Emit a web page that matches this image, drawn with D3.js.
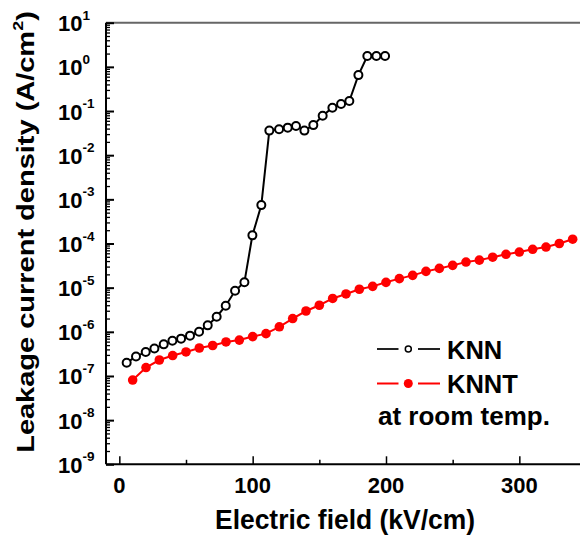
<!DOCTYPE html>
<html>
<head>
<meta charset="utf-8">
<script src="https://cdn.jsdelivr.net/npm/d3@7"></script>
<style>
  html, body { margin: 0; padding: 0; background: #fff; }
  text { font-family: Arial, "Liberation Sans", Helvetica, sans-serif; font-weight: bold; fill: #000; }
</style>
</head>
<body>
<svg id="chart" width="580" height="536"></svg>
<script>
// ---------- data ----------
const knnField = [5.5, 12.5, 19.8, 26.3, 33.3, 39.8, 46.3, 53, 59.8, 66.3, 73, 79.8, 86.8, 93.8, 99.8,
  106.5, 112.5, 119.8, 126.3, 132.5, 138.8, 145.5, 152.5, 159.8, 166.3, 172.5, 179.3, 186, 192.8, 199.3];
const knnCurrent = [2.0e-7, 2.75e-7, 3.5e-7, 4.2e-7, 5.2e-7, 6.3e-7, 7.0e-7, 8.2e-7, 1.0e-6, 1.4e-6,
  2.2e-6, 3.9e-6, 8.5e-6, 1.32e-5, 1.53e-4, 7.4e-4, 0.036, 0.0385, 0.042, 0.046,
  0.036, 0.048, 0.078, 0.119, 0.144, 0.168, 0.65, 1.76, 1.76, 1.76];
const knntField = [10, 20, 30, 40, 50, 60, 70, 80, 90, 100, 110, 120, 130, 140, 150, 160, 170,
  180, 190, 200, 210, 220, 230, 240, 250, 260, 270, 280, 290, 300, 310, 320, 330, 340];
const knntCurrent = [8.1e-8, 1.55e-7, 2.3e-7, 2.9e-7, 3.5e-7, 4.3e-7, 4.9e-7, 5.9e-7, 6.5e-7, 7.8e-7,
  9.1e-7, 1.3e-6, 2.0e-6, 2.96e-6, 4.0e-6, 5.7e-6, 7.2e-6, 9.2e-6, 1.07e-5, 1.32e-5,
  1.6e-5, 1.9e-5, 2.34e-5, 2.73e-5, 3.2e-5, 3.8e-5, 4.2e-5, 4.9e-5, 5.7e-5, 6.4e-5,
  7.4e-5, 8.3e-5, 1.0e-4, 1.25e-4];
const xTickValues = [0, 100, 200, 300];
const xMinorValues = [50, 150, 250];
const yExponents = [1, 0, -1, -2, -3, -4, -5, -6, -7, -8, -9];
const seriesNames = ["KNN", "KNNT"];
const noteText = "at room temp.";
const xTitle = "Electric field (kV/cm)";
const yTitle = "Leakage current density (A/cm";

// ---------- layout ----------
const svg = d3.select("#chart");
const plotLeft = 106, plotTop = 22.7, plotBottom = 464.3, plotRight = 586;
const x = d3.scaleLinear().domain([-10, 350]).range([plotLeft, plotRight]);
const y = d3.scaleLog().domain([1e-9, 10]).range([plotBottom, plotTop]);

// frame line on top
svg.append("line").attr("x1", plotLeft).attr("x2", plotRight).attr("y1", plotTop).attr("y2", plotTop)
  .attr("stroke", "#666").attr("stroke-width", 2);

// y axis (ticks inward)
const yMinor = [];
for (let e = -9; e < 1; e++) for (let m = 2; m <= 9; m++) yMinor.push(m * Math.pow(10, e));
const yAxisMinor = d3.axisRight(y).tickValues(yMinor).tickSize(4).tickFormat("");
const gyMin = svg.append("g").attr("transform", `translate(${plotLeft},0)`).call(yAxisMinor);
gyMin.select(".domain").remove();
gyMin.selectAll(".tick line").attr("stroke", "#000").attr("stroke-width", 1.3);

const yAxisMajor = d3.axisRight(y).tickValues(yExponents.map(e => Math.pow(10, e))).tickSize(8).tickFormat("");
const gy = svg.append("g").attr("transform", `translate(${plotLeft},0)`).call(yAxisMajor);
gy.select(".domain").attr("stroke", "#000").attr("stroke-width", 2).attr("d", `M0,${plotTop}V${plotBottom}`);
gy.selectAll(".tick line").attr("stroke", "#000").attr("stroke-width", 2);

// y tick labels with superscripts
const yl = svg.append("g");
yExponents.forEach(e => {
  const t = yl.append("text").attr("x", 58).attr("y", y(Math.pow(10, e)) + 8.5)
    .attr("font-size", 22);
  t.append("tspan").text("10");
  t.append("tspan").attr("font-size", 13.5).attr("dy", -11.5).text(String(e));
});

// x axis (ticks inward)
const xAxisMinor = d3.axisTop(x).tickValues(xMinorValues).tickSize(4.5).tickFormat("");
const gxMin = svg.append("g").attr("transform", `translate(0,${plotBottom})`).call(xAxisMinor);
gxMin.select(".domain").remove();
gxMin.selectAll(".tick line").attr("stroke", "#000").attr("stroke-width", 1.5);

const xAxis = d3.axisTop(x).tickValues(xTickValues).tickSize(8).tickFormat("");
const gx = svg.append("g").attr("transform", `translate(0,${plotBottom})`).call(xAxis);
gx.select(".domain").attr("stroke", "#000").attr("stroke-width", 2).attr("d", `M${plotLeft},0H${plotRight}`);
gx.selectAll(".tick line").attr("stroke", "#000").attr("stroke-width", 1.5);

svg.append("g").selectAll("text").data(xTickValues).join("text")
  .attr("x", d => x(d)).attr("y", 493).attr("text-anchor", "middle")
  .attr("font-size", 22).text(d => d);

// axis titles
svg.append("text").attr("x", 345).attr("y", 529).attr("text-anchor", "middle")
  .attr("font-size", 27).attr("textLength", 260).attr("lengthAdjust", "spacingAndGlyphs").text(xTitle);

const yt = svg.append("text")
  .attr("transform", `translate(34,232) rotate(-90) scale(1,0.82)`)
  .attr("text-anchor", "middle").attr("font-size", 29);
yt.append("tspan").text(yTitle);
yt.append("tspan").attr("font-size", 18).attr("dy", -13).text("2");
yt.append("tspan").attr("dy", 13).text(")");

// ---------- series ----------
const knn = knnField.map((f, i) => ({ f, v: knnCurrent[i] }));
const knnt = knntField.map((f, i) => ({ f, v: knntCurrent[i] }));
const line = d3.line().x(d => x(d.f)).y(d => y(d.v));

svg.append("path").datum(knn).attr("d", line).attr("fill", "none")
  .attr("stroke", "#000").attr("stroke-width", 2);
svg.append("path").datum(knnt).attr("d", line).attr("fill", "none")
  .attr("stroke", "#ff0000").attr("stroke-width", 2);

svg.append("g").selectAll("circle").data(knn).join("circle")
  .attr("cx", d => x(d.f)).attr("cy", d => y(d.v)).attr("r", 4)
  .attr("fill", "#fff").attr("stroke", "#000").attr("stroke-width", 2);
svg.append("g").selectAll("circle").data(knnt).join("circle")
  .attr("cx", d => x(d.f)).attr("cy", d => y(d.v)).attr("r", 4.8)
  .attr("fill", "#ff0000");

// ---------- legend ----------
const lg = svg.append("g");
const legendRows = [
  { name: seriesNames[0], color: "#222", ly: 349, ty: 359 },
  { name: seriesNames[1], color: "#ff0000", ly: 383.5, ty: 393 }
];
legendRows.forEach((r, i) => {
  lg.append("line").attr("x1", 377).attr("x2", 398.5).attr("y1", r.ly).attr("y2", r.ly)
    .attr("stroke", r.color).attr("stroke-width", 2);
  lg.append("line").attr("x1", 418).attr("x2", 440).attr("y1", r.ly).attr("y2", r.ly)
    .attr("stroke", r.color).attr("stroke-width", 2);
  if (i === 0) {
    lg.append("circle").attr("cx", 408.3).attr("cy", r.ly).attr("r", 3)
      .attr("fill", "#fff").attr("stroke", "#000").attr("stroke-width", 1.5);
  } else {
    lg.append("circle").attr("cx", 408.3).attr("cy", r.ly).attr("r", 4.5).attr("fill", "#ff0000");
  }
  lg.append("text").attr("x", 447).attr("y", r.ty).attr("font-size", 25.5).text(r.name);
});
lg.append("text").attr("x", 378).attr("y", 425).attr("font-size", 26).text(noteText);
</script>
</body>
</html>
